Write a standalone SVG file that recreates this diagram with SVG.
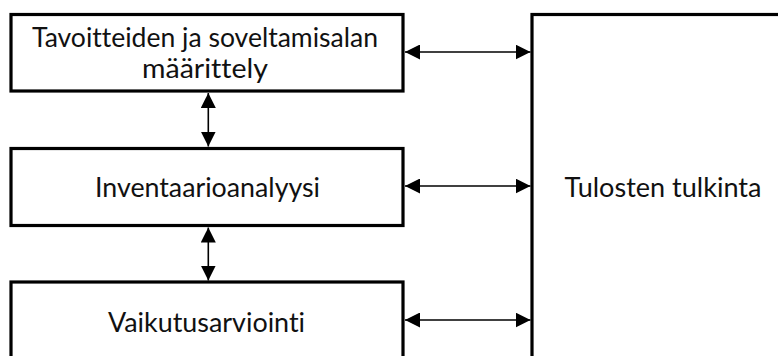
<svg xmlns="http://www.w3.org/2000/svg" width="778" height="356" viewBox="0 0 778 356">
<defs>
<style>
.box{fill:#fff;stroke:#000;stroke-width:3.2}
.lbl{font-family:Lato,"Open Sans","Liberation Sans",sans-serif;font-size:26px;fill:#111;text-anchor:middle;font-variant-ligatures:none;font-feature-settings:"liga" 0,"clig" 0}
.con{stroke:#000;stroke-width:1.6;fill:none;marker-start:url(#ah);marker-end:url(#ah)}
</style>
<marker id="ah" viewBox="0 0 15 15" refX="15" refY="7.5" markerWidth="15" markerHeight="15" markerUnits="userSpaceOnUse" orient="auto-start-reverse">
<path d="M0,0 L15,7.5 L0,15 Z" fill="#000"/>
</marker>
</defs>
<rect width="778" height="356" fill="#fff"/>
<g id="node-tavoitteet">
<rect class="box" x="11" y="14.5" width="392" height="76.5"/>
<text class="lbl" x="205" y="46.5" textLength="346" lengthAdjust="spacingAndGlyphs">Tavoitteiden ja soveltamisalan</text>
<text class="lbl" x="205" y="78.3" textLength="126" lengthAdjust="spacingAndGlyphs">määrittely</text>
</g>
<g id="node-inventaario">
<rect class="box" x="11" y="148.5" width="392" height="77"/>
<text class="lbl" x="207.5" y="196.7" textLength="225" lengthAdjust="spacingAndGlyphs">Inventaarioanalyysi</text>
</g>
<g id="node-vaikutus">
<rect class="box" x="11" y="282" width="392" height="100"/>
<text class="lbl" x="206.5" y="331.5" textLength="197" lengthAdjust="spacingAndGlyphs">Vaikutusarviointi</text>
</g>
<g id="node-tulkinta">
<rect class="box" x="532" y="14.5" width="262" height="380"/>
<text class="lbl" x="663" y="196.7" textLength="197" lengthAdjust="spacingAndGlyphs">Tulosten tulkinta</text>
</g>
<g id="connectors">
<line class="con" x1="405" y1="52" x2="530.5" y2="52"/>
<line class="con" x1="405" y1="186" x2="530.5" y2="186"/>
<line class="con" x1="405" y1="320" x2="530.5" y2="320"/>
<line class="con" x1="208.3" y1="93" x2="208.3" y2="146.5"/>
<line class="con" x1="208.3" y1="227.5" x2="208.3" y2="280.5"/>
</g>
</svg>
